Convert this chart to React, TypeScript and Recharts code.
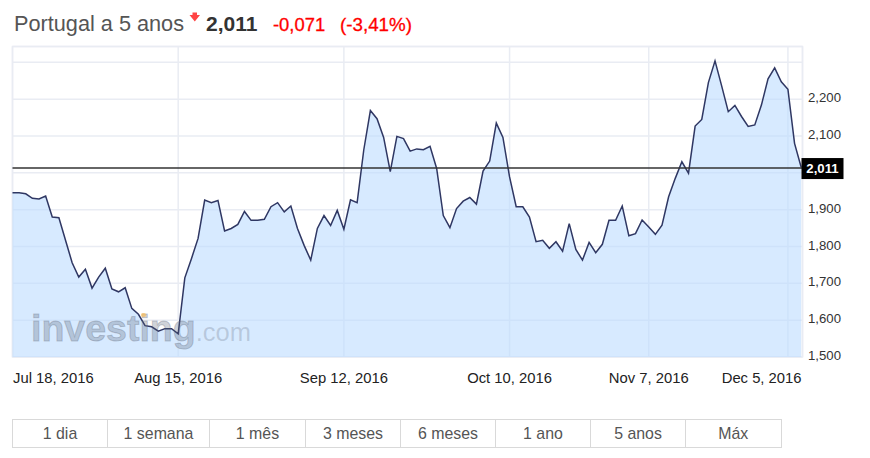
import { Area, CartesianGrid, ComposedChart, Line, ReferenceArea, ReferenceLine, XAxis, YAxis } from "recharts";

const values = [
  1.946, 1.946, 1.943, 1.931, 1.929, 1.937, 1.88, 1.878, 1.817, 1.756,
  1.717, 1.738, 1.687, 1.717, 1.741, 1.685, 1.677, 1.688, 1.632, 1.616,
  1.585, 1.582, 1.57, 1.577, 1.577, 1.563, 1.715, 1.767, 1.822, 1.926,
  1.919, 1.925, 1.842, 1.849, 1.86, 1.895, 1.871, 1.871, 1.874, 1.908,
  1.919, 1.894, 1.91, 1.849, 1.803, 1.763, 1.849, 1.884, 1.857, 1.898,
  1.847, 1.927, 1.919, 2.062, 2.169, 2.147, 2.096, 2.003, 2.099, 2.093,
  2.059, 2.065, 2.063, 2.072, 2.012, 1.884, 1.851, 1.903, 1.923, 1.933,
  1.915, 2.005, 2.032, 2.135, 2.096, 1.989, 1.908, 1.908, 1.88, 1.813,
  1.817, 1.795, 1.813, 1.787, 1.862, 1.792, 1.763, 1.811, 1.783, 1.806,
  1.871, 1.871, 1.91, 1.829, 1.835, 1.872, 1.853, 1.833, 1.858, 1.935,
  1.985, 2.03, 1.999, 2.127, 2.145, 2.245, 2.304, 2.236, 2.166, 2.183,
  2.153, 2.126, 2.13, 2.184, 2.255, 2.285, 2.247, 2.227, 2.08, 2.015,
];

const dateTicks = [0, 25, 50, 75, 96, 117];
const dateLabels = ["Jul 18, 2016", "Aug 15, 2016", "Sep 12, 2016", "Oct 10, 2016", "Nov 7, 2016", "Dec 5, 2016"];
const priceTicks = [1.5, 1.6, 1.7, 1.8, 1.9, 2.0, 2.1, 2.2, 2.3];
const hiddenPriceLabels = [2.0, 2.3];
const ranges = ["1 dia", "1 semana", "1 mês", "3 meses", "6 meses", "1 ano", "5 anos", "Máx"];
const rangeWidths = [95, 102, 96, 95, 95, 95, 95, 95.5];

const lastPriceLabel = "2,011";
const lastPriceLevel = 2.013; // where the line sits in the picture
const yTop = 2.343;
const xEnd = 119.2;
const font = "'Liberation Sans', Arial, sans-serif";
const gridColor = "#e9ecf3";

const chartData = values.map((value, idx) => ({ idx, value }));

function DateTick({ x, y, payload, index }: any) {
  const label = dateLabels[dateTicks.indexOf(payload.value)];
  // first label is pinned to the left edge, last one to the right edge
  let anchor = "middle";
  let tx = x;
  if (index === 0) {
    anchor = "start";
    tx = x + 0.5;
  }
  if (index === dateTicks.length - 1) {
    anchor = "end";
    tx = 801.5;
  }
  return (
    <text x={tx} y={y + 18} textAnchor={anchor} fontSize={14.8} fontFamily={font} fill="#222">
      {label}
    </text>
  );
}

function PriceTick({ y, payload }: any) {
  if (hiddenPriceLabels.includes(payload.value)) return null;
  return (
    <text x={841} y={y + 3} textAnchor="end" fontSize={13.2} fontFamily={font} fill="#333">
      {payload.value.toFixed(3).replace(".", ",")}
    </text>
  );
}

function PriceTag({ viewBox }: any) {
  const right = viewBox.x + viewBox.width;
  return (
    <g>
      <rect x={right - 1} y={viewBox.y - 10} width={42} height={21} fill="#000" />
      <text x={right + 20} y={viewBox.y + 5} textAnchor="middle" fontSize={13.2} fontWeight="bold" fontFamily={font} fill="#fff">
        {lastPriceLabel}
      </text>
    </g>
  );
}

export default function App() {
  return (
    <div style={{ position: "absolute", left: 0, top: 0, width: 870, height: 458, background: "#fff", overflow: "hidden", fontFamily: font }}>
      <div style={{ position: "absolute", left: 14, top: 11, fontSize: 21.7, lineHeight: "26px", color: "#555", whiteSpace: "nowrap" }}>
        Portugal a 5 anos
      </div>
      <svg style={{ position: "absolute", left: 189, top: 12 }} width={12} height={12}>
        <polygon points="3.5,0.5 8,0.5 8,3 11,3 5.8,9.5 0.5,3 3.5,3" fill="#f44" />
      </svg>
      <div style={{ position: "absolute", left: 206, top: 11, fontSize: 21, lineHeight: "26px", fontWeight: "bold", color: "#333", whiteSpace: "nowrap" }}>
        2,011
      </div>
      <div style={{ position: "absolute", left: 273, top: 12, fontSize: 18.4, lineHeight: "26px", color: "#f00", whiteSpace: "nowrap", WebkitTextStroke: "0.3px #f00" }}>
        -0,071
      </div>
      <div style={{ position: "absolute", left: 340, top: 12, fontSize: 18.8, lineHeight: "26px", color: "#f00", whiteSpace: "nowrap", WebkitTextStroke: "0.3px #f00" }}>
        (-3,41%)
      </div>

      <ComposedChart
        width={870}
        height={458}
        data={chartData}
        margin={{ top: 46.5, right: 0, bottom: 61, left: 12.5 }}
      >
        <CartesianGrid stroke={gridColor} strokeWidth={1.5} />
        <XAxis
          dataKey="idx"
          type="number"
          domain={[0, xEnd]}
          ticks={dateTicks}
          interval={0}
          height={40}
          axisLine={false}
          tickLine={false}
          tick={<DateTick />}
        />
        <YAxis
          orientation="right"
          type="number"
          domain={[1.5, yTop]}
          ticks={priceTicks}
          interval={0}
          width={67.5}
          axisLine={false}
          tickLine={false}
          tick={<PriceTick />}
        />
        <ReferenceArea x1={0} x2={xEnd} y1={1.5} y2={yTop} fill="none" stroke={gridColor} strokeWidth={1.5} />
        <Area
          dataKey="value"
          type="linear"
          baseValue={1.5}
          fill="#bcdcff"
          fillOpacity={0.6}
          stroke="none"
          isAnimationActive={false}
        />
        <Line dataKey="value" type="linear" stroke="#2f3763" strokeWidth={1.5} dot={false} activeDot={false} isAnimationActive={false} />
        <ReferenceLine y={lastPriceLevel} stroke="#333" strokeWidth={1.6} label={<PriceTag />} />
      </ComposedChart>

      {/* watermark */}
      <div style={{ position: "absolute", left: 31, top: 304, fontSize: 37.5, lineHeight: "48px", fontWeight: "bold", color: "rgba(90,100,120,0.3)", WebkitTextStroke: "1px rgba(90,100,120,0.3)", whiteSpace: "nowrap" }}>
        investing<span style={{ fontSize: 25.5, fontWeight: "normal", WebkitTextStroke: "0px", color: "rgba(90,100,120,0.25)" }}>.com</span>
      </div>
      <div style={{ position: "absolute", left: 141, top: 313, width: 5, height: 4, borderRadius: 3, background: "rgba(250,190,90,0.7)" }} />

      <div style={{ position: "absolute", left: 12, top: 419, display: "flex", height: 29, boxSizing: "border-box", border: "1px solid #d9d9d9", borderRight: "none" }}>
        {ranges.map((range, i) => (
          <div
            key={range}
            style={{ width: rangeWidths[i], boxSizing: "border-box", borderRight: "1px solid #d9d9d9", textAlign: "center", fontSize: 15.9, lineHeight: "28px", color: "#555" }}
          >
            {range}
          </div>
        ))}
      </div>
    </div>
  );
}
